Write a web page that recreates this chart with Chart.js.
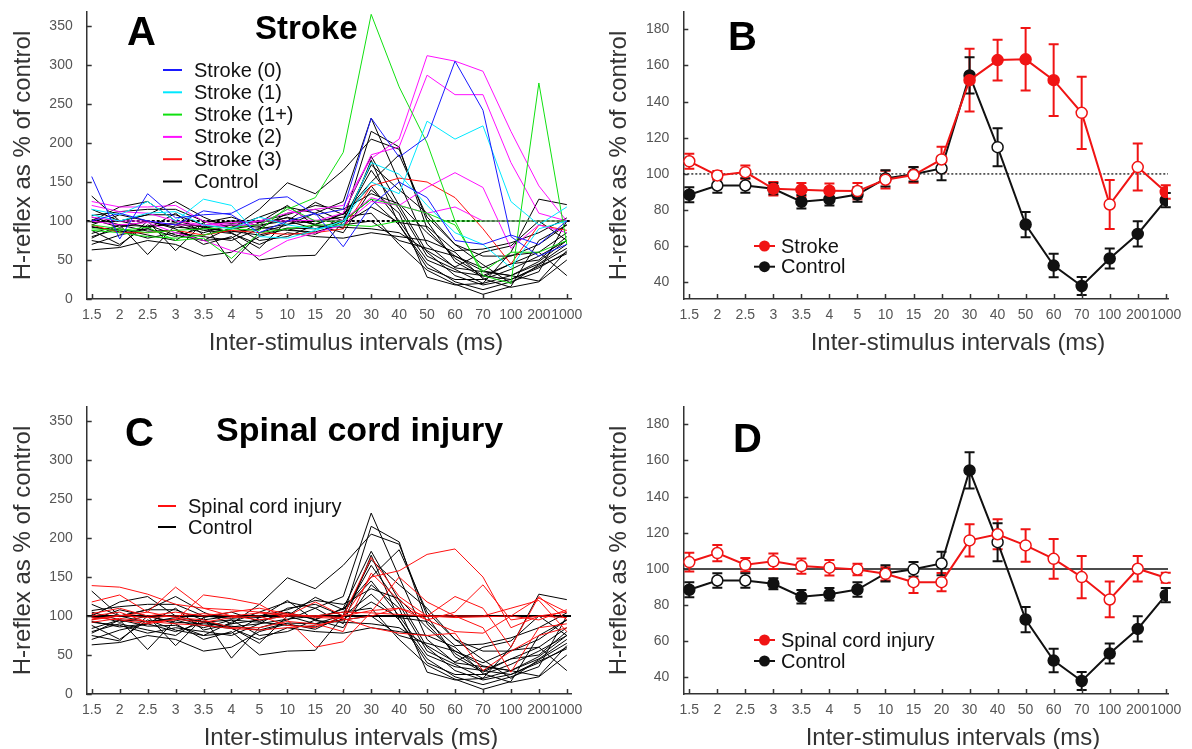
<!DOCTYPE html>
<html>
<head>
<meta charset="utf-8">
<title>H-reflex conditioning curves</title>
<script src="https://cdn.jsdelivr.net/npm/chart.js@4.4.0/dist/chart.umd.min.js"></script>
<style>
  body { margin: 0; background: #fff; width: 1192px; height: 749px; position: relative; overflow: hidden;
         font-family: Arial, "Liberation Sans", sans-serif; }
  canvas { position: absolute; }
  .tag { position: absolute; font-weight: bold; line-height: 1; color: #000; white-space: nowrap; }
  .xtitle { position: absolute; font-size: 24px; line-height: 28px; color: #333; white-space: nowrap;
            transform: translateX(-50%); }
</style>
</head>
<body>
<canvas id="panelA" width="596" height="355" style="left:0;top:0"></canvas>
<canvas id="panelB" width="596" height="355" style="left:596px;top:0"></canvas>
<canvas id="panelC" width="596" height="354" style="left:0;top:395px"></canvas>
<canvas id="panelD" width="596" height="354" style="left:596px;top:395px"></canvas>

<div class="tag" style="left:127px;top:11px;font-size:40px">A</div>
<div class="tag" style="left:255px;top:11px;font-size:33px">Stroke</div>
<div class="tag" style="left:728px;top:16px;font-size:40px">B</div>
<div class="tag" style="left:125px;top:412px;font-size:40px">C</div>
<div class="tag" style="left:216px;top:412px;font-size:34px">Spinal cord injury</div>
<div class="tag" style="left:733px;top:418px;font-size:40px">D</div>

<div class="xtitle" style="left:356px;top:328px">Inter-stimulus intervals (ms)</div>
<div class="xtitle" style="left:958px;top:328px">Inter-stimulus intervals (ms)</div>
<div class="xtitle" style="left:351px;top:723px">Inter-stimulus intervals (ms)</div>
<div class="xtitle" style="left:953px;top:723px">Inter-stimulus intervals (ms)</div>

<script>
// conditioning intervals (ms) along the x axis
const intervals = ['1.5', '2', '2.5', '3', '3.5', '4', '5', '10', '15', '20', '30', '40', '50', '60', '70', '100', '200', '1000'];
const spreadTicks = [0, 50, 100, 150, 200, 250, 300, 350];
const meanTicks = [40, 60, 80, 100, 120, 140, 160, 180];
const referenceLevel = 100;

// individual subjects, H-reflex as % of control
const controlSubjects = [
  [132, 100, 108, 125, 105, 90, 115, 149, 135, 165, 205, 192, 100, 48, 28, 45, 60, 85],
  [75, 68, 100, 62, 98, 46, 85, 95, 110, 125, 232, 150, 70, 40, 35, 30, 48, 75],
  [95, 108, 100, 90, 70, 80, 50, 55, 56, 100, 215, 195, 90, 52, 30, 25, 40, 60],
  [105, 95, 57, 95, 85, 95, 75, 80, 95, 110, 183, 120, 60, 30, 18, 25, 42, 58],
  [88, 70, 95, 82, 75, 92, 105, 118, 110, 90, 178, 95, 40, 25, 25, 38, 55, 75],
  [63, 66, 75, 70, 55, 60, 80, 90, 83, 100, 172, 140, 110, 70, 55, 55, 70, 95],
  [100, 118, 125, 100, 92, 85, 65, 100, 124, 108, 145, 100, 50, 35, 30, 45, 50, 80],
  [80, 90, 82, 75, 98, 105, 93, 105, 95, 85, 140, 110, 28, 18, 20, 30, 45, 70],
  [107, 112, 115, 115, 100, 97, 100, 108, 120, 115, 135, 122, 85, 55, 36, 30, 23, 62],
  [92, 88, 78, 85, 80, 75, 90, 110, 115, 100, 128, 95, 45, 22, 12, 22, 35, 100],
  [70, 82, 90, 110, 82, 90, 95, 100, 90, 95, 100, 75, 65, 55, 40, 56, 60, 30],
  [115, 100, 108, 108, 95, 100, 98, 120, 94, 92, 90, 85, 62, 41, 60, 68, 100, 75],
  [98, 100, 92, 98, 88, 84, 70, 85, 80, 78, 85, 80, 75, 60, 26, 15, 22, 50],
  [78, 95, 93, 96, 93, 86, 90, 96, 100, 105, 110, 70, 37, 19, 6, 16, 75, 95],
  [102, 92, 100, 92, 90, 87, 82, 91, 90, 101, 165, 115, 55, 38, 20, 60, 128, 121],
  [84, 95, 87, 88, 75, 78, 98, 104, 96, 109, 150, 185, 105, 70, 44, 20, 44, 65],
  [93, 86, 90, 80, 92, 95, 92, 88, 86, 96, 118, 98, 93, 62, 64, 72, 85, 104]
];
const stroke0Subjects = [
  [157, 77, 135, 104, 108, 110, 128, 131, 108, 115, 232, 182, 208, 305, 242, 80, 55, 70],
  [100, 110, 100, 95, 113, 108, 85, 100, 110, 67, 120, 150, 130, 75, 70, 82, 70, 100]
];
const stroke1Subjects = [
  [115, 108, 125, 100, 128, 120, 80, 78, 88, 100, 150, 135, 228, 205, 222, 125, 95, 118],
  [108, 100, 110, 112, 95, 90, 105, 95, 90, 95, 175, 160, 120, 85, 70, 40, 90, 100]
];
const stroke1plusSubjects = [
  [95, 90, 85, 88, 90, 92, 95, 115, 130, 188, 365, 272, 200, 100, 30, 20, 277, 70],
  [90, 88, 92, 75, 78, 52, 85, 90, 95, 95, 93, 100, 100, 100, 100, 100, 100, 100],
  [88, 85, 80, 78, 82, 90, 88, 118, 100, 100, 128, 120, 110, 95, 35, 60, 60, 75]
];
const stroke2Subjects = [
  [125, 118, 118, 120, 100, 90, 100, 110, 115, 120, 180, 205, 312, 305, 292, 215, 145, 100],
  [120, 112, 110, 100, 95, 95, 95, 115, 100, 110, 185, 195, 287, 262, 262, 175, 110, 100],
  [100, 95, 98, 85, 75, 62, 55, 75, 85, 95, 125, 120, 143, 162, 143, 65, 95, 85],
  [105, 100, 100, 95, 95, 98, 100, 100, 101, 101, 130, 120, 110, 118, 100, 100, 100, 100]
];
const stroke3Subjects = [
  [95, 85, 85, 88, 82, 88, 85, 83, 85, 90, 145, 155, 150, 130, 90, 45, 95, 88]
];
const sciSubjects = [
  [139, 137, 128, 115, 110, 108, 105, 102, 100, 98, 150, 158, 179, 186, 150, 85, 100, 105],
  [118, 127, 105, 137, 110, 100, 95, 100, 118, 100, 175, 125, 100, 125, 110, 60, 125, 95],
  [100, 105, 92, 95, 127, 122, 115, 95, 60, 67, 105, 150, 118, 100, 100, 110, 120, 80],
  [95, 100, 105, 98, 95, 85, 85, 93, 90, 80, 155, 120, 95, 80, 78, 100, 95, 108],
  [92, 97, 93, 90, 88, 84, 82, 85, 88, 95, 100, 110, 95, 105, 140, 95, 100, 98],
  [103, 110, 100, 105, 100, 105, 110, 103, 98, 97, 85, 78, 75, 78, 30, 55, 75, 85],
  [98, 95, 90, 96, 92, 98, 100, 88, 85, 100, 107, 110, 100, 100, 85, 28, 85, 90],
  [96, 101, 98, 100, 103, 100, 104, 100, 100, 105, 104, 102, 100, 98, 99, 100, 123, 105]
];

// group means and SEM; open marks = not different from control test
const strokeMean = [107, 99.2, 101, 91.8, 91.2, 90.7, 90.5, 96.8, 99.4, 108, 151.9, 163, 163.4, 151.9, 133.8, 83.1, 103.8, 90];
const strokeSem = [4.2, 2.4, 3.6, 3.7, 3.8, 4, 4.5, 4.9, 4.3, 7, 17.4, 11.3, 17.3, 19.9, 20, 13.6, 13, 3.7];
const strokeOpen = [1, 1, 1, 0, 0, 0, 1, 1, 1, 1, 0, 0, 0, 0, 1, 1, 1, 0];
const controlMean = [88.5, 93.6, 93.6, 91.8, 84.6, 86, 88.6, 97.5, 99.8, 103, 154.5, 114.8, 72, 49.3, 38, 53.2, 66.8, 85.5];
const controlSem = [4.2, 4, 4, 3, 3.7, 3.5, 4, 4.5, 4, 6.5, 10, 10.5, 7, 6.5, 5, 5.5, 7, 4];
const controlOpen = [0, 1, 1, 0, 0, 0, 0, 1, 1, 1, 0, 1, 0, 0, 0, 0, 0, 0];
const sciMean = [103.8, 108.8, 102.3, 104.2, 101.6, 100.7, 99.7, 97.3, 92.7, 92.7, 115.8, 119.2, 113, 105.6, 95.5, 83.1, 100.1, 95.1];
const sciSem = [5.2, 4.5, 3.7, 4.3, 4.2, 4.3, 3.2, 3.7, 6, 5, 8.9, 8.3, 9, 11, 11.7, 9.9, 7, 2.8];
const sciOpen = [1, 1, 1, 1, 1, 1, 1, 1, 1, 1, 1, 1, 1, 1, 1, 1, 1, 1];

const RED = '#f01414';
const INK = '#111';

Chart.defaults.font.family = 'Arial, "Liberation Sans", sans-serif';

// small inward tick marks on both axes
const inwardTicks = {
  id: 'inwardTicks',
  afterDraw(chart) {
    const { ctx, chartArea, scales: { x, y } } = chart;
    ctx.save();
    ctx.strokeStyle = '#333';
    ctx.lineWidth = 1.5;
    ctx.beginPath();
    x.ticks.forEach(t => {
      const px = Math.round(x.getPixelForValue(t.value)) + 0.5;
      ctx.moveTo(px, chartArea.bottom);
      ctx.lineTo(px, chartArea.bottom - 5);
    });
    y.ticks.forEach(t => {
      const py = Math.round(y.getPixelForValue(t.value)) + 0.5;
      ctx.moveTo(chartArea.left, py);
      ctx.lineTo(chartArea.left + 5, py);
    });
    ctx.stroke();
    ctx.restore();
  }
};

// horizontal line at the unconditioned (100 %) level
const refLine = {
  id: 'refLine',
  beforeDatasetsDraw(chart, args, opts) {
    if (opts.value == null) return;
    const { ctx, chartArea } = chart;
    const py = chart.scales.y.getPixelForValue(opts.value);
    ctx.save();
    ctx.strokeStyle = opts.color || '#000';
    ctx.lineWidth = opts.width || 1;
    ctx.setLineDash(opts.dash || []);
    ctx.beginPath();
    ctx.moveTo(chartArea.left, py);
    ctx.lineTo(chartArea.right, py);
    ctx.stroke();
    ctx.restore();
  }
};

// SEM bars, drawn under the lines and markers
const semBars = {
  id: 'semBars',
  beforeDatasetsDraw(chart) {
    const { ctx, scales: { x, y } } = chart;
    ctx.save();
    ctx.lineWidth = 2;
    chart.data.datasets.forEach(ds => {
      if (!ds.sem) return;
      ctx.strokeStyle = ds.borderColor;
      ds.data.forEach((pt, i) => {
        const px = x.getPixelForValue(pt.x);
        const top = y.getPixelForValue(pt.y + ds.sem[i]);
        const bot = y.getPixelForValue(pt.y - ds.sem[i]);
        ctx.beginPath();
        ctx.moveTo(px, top); ctx.lineTo(px, bot);
        ctx.moveTo(px - 5, top); ctx.lineTo(px + 5, top);
        ctx.moveTo(px - 5, bot); ctx.lineTo(px + 5, bot);
        ctx.stroke();
      });
    });
    ctx.restore();
  }
};

// legend placed inside the plot, one entry per group label
const insetLegend = {
  id: 'insetLegend',
  afterDraw(chart, args, opts) {
    if (!opts.x) return;
    const seen = new Map();
    chart.data.datasets.forEach(ds => { if (!seen.has(ds.label)) seen.set(ds.label, ds.borderColor); });
    const ctx = chart.ctx;
    ctx.save();
    ctx.font = '20px Arial, "Liberation Sans", sans-serif';
    ctx.textBaseline = 'middle';
    let row = 0;
    seen.forEach((color, label) => {
      const py = opts.y + row * opts.gap;
      ctx.strokeStyle = color;
      ctx.lineWidth = 2;
      ctx.beginPath();
      ctx.moveTo(opts.x, py);
      ctx.lineTo(opts.x + opts.len, py);
      ctx.stroke();
      if (opts.marker) {
        ctx.fillStyle = color;
        ctx.beginPath();
        ctx.arc(opts.x + opts.len / 2, py, 5.5, 0, Math.PI * 2);
        ctx.fill();
      }
      ctx.fillStyle = INK;
      ctx.fillText(label, opts.textX, py + 1);
      row++;
    });
    ctx.restore();
  }
};

function axisOptions(yTicks, yMin, yMax, xMin, xMax, yWidth, xHeight) {
  return {
    x: {
      type: 'linear', min: xMin, max: xMax,
      afterBuildTicks: s => { s.ticks = intervals.map((_, i) => ({ value: i })); },
      afterFit: s => { s.height = xHeight; },
      ticks: { autoSkip: false, maxRotation: 0, padding: 8, color: '#555', font: { size: 14 },
               callback: v => intervals[v] },
      grid: { drawOnChartArea: false, drawTicks: false },
      border: { color: '#333', width: 1.5 }
    },
    y: {
      min: yMin, max: yMax,
      afterBuildTicks: s => { s.ticks = yTicks.map(v => ({ value: v })); },
      // fixed axis width; label padding must not push the plot top down
      afterFit: s => { s.width = yWidth; s.paddingTop = 0; s.paddingBottom = 0; },
      ticks: { padding: 14, color: '#555', font: { size: 14 } },
      grid: { drawOnChartArea: false, drawTicks: false },
      border: { color: '#333', width: 1.5 },
      title: { display: true, text: 'H-reflex as % of control', color: '#333',
               font: { size: 24 }, padding: { top: 9, bottom: 0 } }
    }
  };
}

function spreadChart(id, groups, xHeight, ref, legend) {
  const datasets = [];
  groups.forEach(g => g.subjects.forEach(values => datasets.push({
    label: g.name,
    data: values.map((v, i) => ({ x: i, y: v })),
    borderColor: g.color,
    borderWidth: 1,
    pointRadius: 0,
    tension: 0
  })));
  return new Chart(document.getElementById(id), {
    type: 'line',
    data: { datasets },
    options: {
      responsive: false, animation: false, devicePixelRatio: 1,
      layout: { padding: { top: 12, right: 25, left: 0, bottom: 0 } },
      plugins: { legend: { display: false }, tooltip: { enabled: false }, refLine: ref, insetLegend: legend },
      scales: axisOptions(spreadTicks, 0, 368, -0.18, 17.15, 86.7, xHeight)
    },
    plugins: [refLine, inwardTicks, insetLegend]
  });
}

function meanSeries(label, color, mean, sem, open) {
  return {
    label,
    data: mean.map((v, i) => ({ x: i, y: v })),
    sem,
    borderColor: color,
    borderWidth: 2,
    tension: 0,
    pointRadius: 5.5,
    pointBorderWidth: 1.5,
    pointBorderColor: color,
    pointBackgroundColor: open.map(o => (o ? '#fff' : color))
  };
}

function meanChart(id, datasets, xHeight, ref, legend) {
  return new Chart(document.getElementById(id), {
    type: 'line',
    data: { datasets },
    options: {
      responsive: false, animation: false, devicePixelRatio: 1,
      layout: { padding: { top: 12, right: 24, left: 0, bottom: 0 } },
      plugins: { legend: { display: false }, tooltip: { enabled: false }, refLine: ref, insetLegend: legend },
      scales: axisOptions(meanTicks, 30.8, 189.6, -0.214, 17.08, 87.3, xHeight)
    },
    plugins: [refLine, semBars, inwardTicks, insetLegend]
  });
}

spreadChart('panelA', [
  { name: 'Stroke (0)', color: '#1a1aff', subjects: stroke0Subjects },
  { name: 'Stroke (1)', color: '#00e8ff', subjects: stroke1Subjects },
  { name: 'Stroke (1+)', color: '#10e010', subjects: stroke1plusSubjects },
  { name: 'Stroke (2)', color: '#ff10ff', subjects: stroke2Subjects },
  { name: 'Stroke (3)', color: '#ff1010', subjects: stroke3Subjects },
  { name: 'Control', color: '#000', subjects: controlSubjects }
], 56, { value: referenceLevel, color: '#000', width: 2, dash: [3, 2] },
   { x: 163, len: 19, textX: 194, y: 70, gap: 22.3 });

meanChart('panelB', [
  meanSeries('Stroke', RED, strokeMean, strokeSem, strokeOpen),
  meanSeries('Control', INK, controlMean, controlSem, controlOpen)
], 56, { value: referenceLevel, color: '#000', width: 1.2, dash: [2, 2] },
   { x: 158, len: 21, textX: 185, y: 246, gap: 20.7, marker: true });

spreadChart('panelC', [
  { name: 'Spinal cord injury', color: '#ff1010', subjects: sciSubjects },
  { name: 'Control', color: '#000', subjects: controlSubjects }
], 55, { value: referenceLevel, color: '#000', width: 2 },
   { x: 158, len: 18, textX: 188, y: 111, gap: 21 });

meanChart('panelD', [
  meanSeries('Spinal cord injury', RED, sciMean, sciSem, sciOpen),
  meanSeries('Control', INK, controlMean, controlSem, controlOpen)
], 55, { value: referenceLevel, color: INK, width: 1.5 },
   { x: 158, len: 21, textX: 185, y: 245, gap: 21, marker: true });
</script>
</body>
</html>
